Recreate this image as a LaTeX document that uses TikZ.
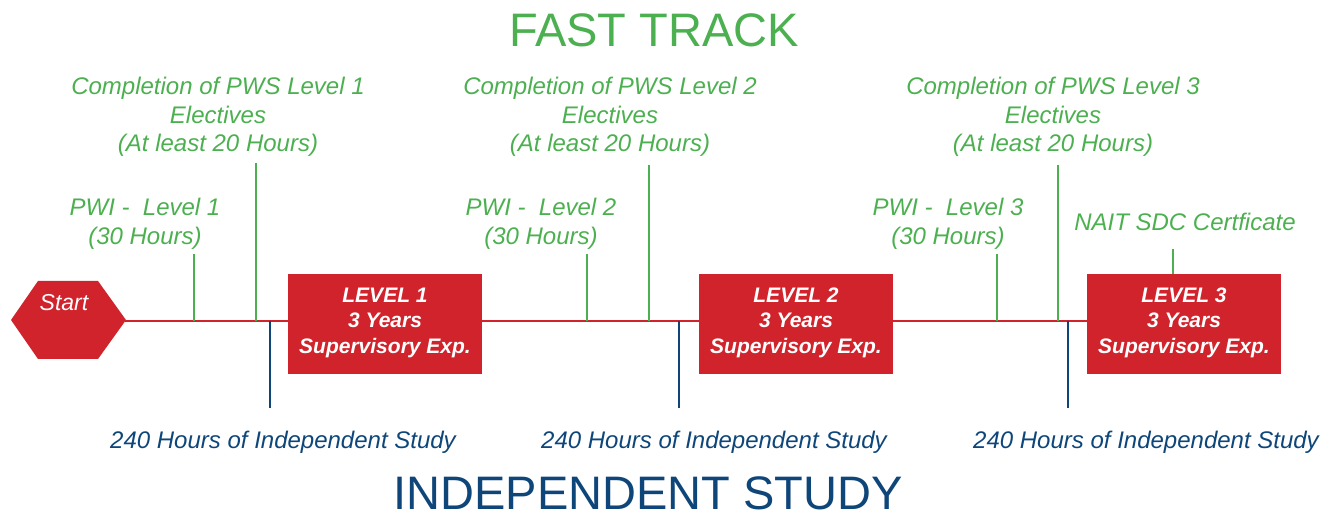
\documentclass[tikz,border=0pt]{standalone}
\usepackage{fontspec}
\setmainfont{Liberation Sans}
\definecolor{ftgreen}{RGB}{76,176,80}
\definecolor{isblue}{RGB}{14,70,122}
\definecolor{boxred}{RGB}{208,35,43}
\begin{document}
\begin{tikzpicture}[x=1pt,y=-1pt,
  glabel/.style={text=ftgreen,font=\fontsize{24}{28.5}\selectfont\itshape,align=center,inner sep=0pt},
  blabel/.style={text=isblue,font=\fontsize{24}{28.5}\selectfont\itshape,inner sep=0pt},
  levelbox/.style={fill=boxred,draw=none,minimum width=194pt,minimum height=100pt,inner sep=0pt},
  boxtext/.style={text=white,font=\fontsize{21}{25.5}\selectfont\bfseries\itshape,align=center,inner sep=0pt,yshift=2pt},
  redline/.style={draw=boxred,line width=2.6pt},
  greenline/.style={draw=ftgreen,line width=2pt},
  blueline/.style={draw=isblue,line width=2.4pt},
  title/.style={font=\fontsize{47}{50}\selectfont,inner sep=0pt}
]
\useasboundingbox (0,0) rectangle (1334,518);
% titles
\node[title,text=ftgreen] (ft) at (654,30) {FAST TRACK};
\node[title,text=isblue] (is) at (648,493) {INDEPENDENT STUDY};
% start hexagon
\fill[boxred] (11,320) -- (38,281) -- (98,281) -- (126,320) -- (98,359) -- (38,359) -- cycle;
\coordinate (start) at (125,321);
\node[text=white,font=\fontsize{23}{26}\selectfont\itshape,inner sep=0pt] (starttxt) at (64,303) {Start};
% level boxes
\node[levelbox,label={[boxtext]center:{LEVEL 1\\3 Years\\Supervisory Exp.}}] (b1) at (385,324.5) {};
\node[levelbox,label={[boxtext]center:{LEVEL 2\\3 Years\\Supervisory Exp.}}] (b2) at (796,324.5) {};
\node[levelbox,label={[boxtext]center:{LEVEL 3\\3 Years\\Supervisory Exp.}}] (b3) at (1184,324.5) {};
% timeline
\draw[redline] (start) -- (start -| b1.west);
\draw[redline] (start -| b1.east) -- (start -| b2.west);
\draw[redline] (start -| b2.east) -- (start -| b3.west);
% green labels
\node[glabel] (c1) at (218,117) {Completion of PWS Level 1\\Electives\\(At least 20 Hours)};
\node[glabel] (c2) at (610,117) {Completion of PWS Level 2\\Electives\\(At least 20 Hours)};
\node[glabel] (c3) at (1053,117) {Completion of PWS Level 3\\Electives\\(At least 20 Hours)};
\node[glabel] (p1) at (145,224) {PWI -\ \ Level 1\\(30 Hours)};
\node[glabel] (p2) at (541,224) {PWI -\ \ Level 2\\(30 Hours)};
\node[glabel] (p3) at (948,224) {PWI -\ \ Level 3\\(30 Hours)};
\node[glabel] (nait) at (1185,222) {NAIT SDC Certficate};
% green ticks
\coordinate (gp1) at (194,254); \coordinate (gc1) at (256,163);
\coordinate (gp2) at (587,254); \coordinate (gc2) at (649,165);
\coordinate (gp3) at (997,254); \coordinate (gc3) at (1058,165);
\coordinate (gn) at (1173,249);
\foreach \g in {gp1,gc1,gp2,gc2,gp3,gc3}{
  \draw[greenline] (\g) -- (\g |- start);
}
\draw[greenline] (gn) -- (gn |- b3.north);
% blue ticks
\coordinate (bl1) at (270,408); \coordinate (bl2) at (679,408); \coordinate (bl3) at (1068,408);
\foreach \b in {bl1,bl2,bl3}{
  \draw[blueline] (\b |- start) -- (\b);
}
\node[blabel] (i1) at (283,442) {240 Hours of Independent Study};
\node[blabel] (i2) at (714,442) {240 Hours of Independent Study};
\node[blabel] (i3) at (1146,442) {240 Hours of Independent Study};
\end{tikzpicture}
\end{document}
